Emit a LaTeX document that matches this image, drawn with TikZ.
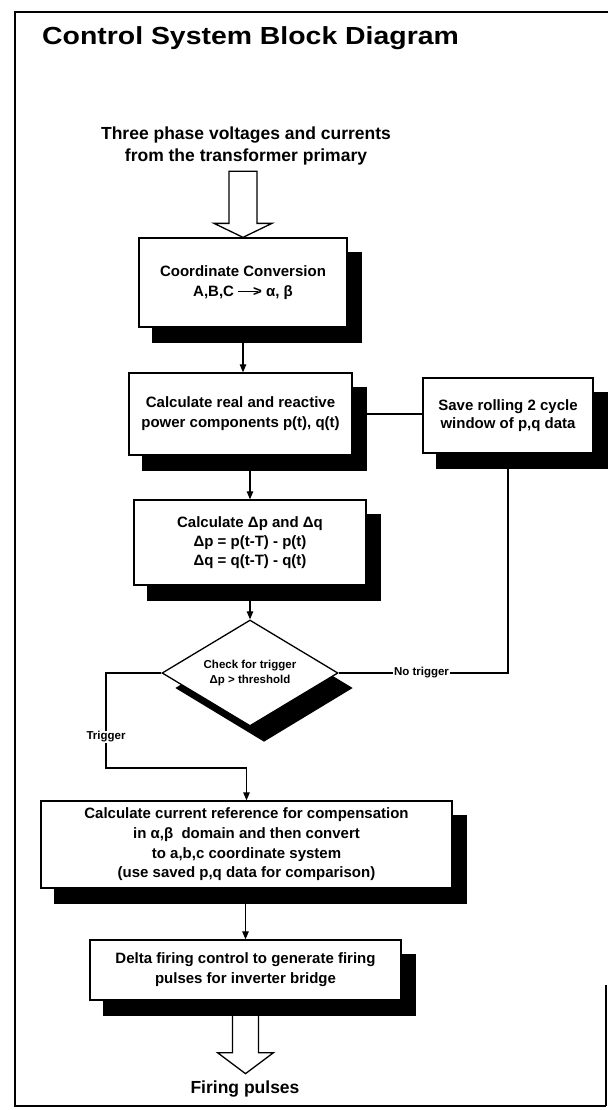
\documentclass[tikz,border=0pt]{standalone}
\usepackage{fontspec}
\setmainfont{Liberation Sans}
\newfontfamily\titlefont{Liberation Sans}[FakeStretch=1.15]
\usetikzlibrary{arrows.meta,shapes.geometric,calc}
\pgfdeclarelayer{lines}
\pgfdeclarelayer{shadows}
\pgfsetlayers{lines,shadows,main}
\newcommand{\ctlarrow}{\raisebox{0.27em}{\rule{1.3em}{0.07em}}\kern-0.3em>}
\begin{document}
\begin{tikzpicture}[x=1pt,y=-1pt,
  box/.style={draw,fill=white,line width=1.3pt,align=center,inner sep=0pt,
    font=\bfseries\fontsize{15}{20}\selectfont},
  dbox/.style={diamond,draw,fill=white,line width=1.3pt,align=center,inner sep=0pt,
    aspect=1.66,minimum width=176pt,minimum height=106pt,
    font=\bfseries\fontsize{11.5}{15}\selectfont},
  lbl/.style={fill=white,inner sep=1pt,font=\bfseries\fontsize{11.5}{14}\selectfont},
  big/.style={align=center,inner sep=0pt,font=\bfseries\fontsize{17.5}{22}\selectfont},
  conn/.style={line width=1.1pt},
  arr/.style={conn,-{Triangle[length=8pt,width=6.5pt]}},
  fat/.style={draw,fill=white,line width=1.3pt,line join=miter},
  shad/.style={fill=black}
]
\useasboundingbox (0,0) rectangle (608,1110);

% frame
\draw[line width=2.2pt] (608,12) -- (15,12) -- (15,1106) -- (606,1106);
\draw[line width=1.5pt] (606,985) -- (606,1106);

% title
\node[anchor=base west,inner sep=0pt,font=\titlefont\bfseries\fontsize{24.7}{28}\selectfont] (title) at (42,45) {Control System Block Diagram};

% top label
\node[big] (src) at (246,146) {Three phase voltages and currents\\from the transformer primary};

% blocks
\node[box,minimum width=208pt,minimum height=89pt] (b1) at (243,282.5) {Coordinate Conversion\\A,B,C \ctlarrow\ α, β};
\node[box,minimum width=223pt,minimum height=82pt] (b2) at (240.5,414) {Calculate real and reactive\\power components p(t), q(t)};
\node[box,minimum width=170pt,minimum height=75pt,font=\bfseries\fontsize{15}{18.5}\selectfont] (save) at (508,415.5) {Save rolling 2 cycle\\window of p,q data};
\node[box,minimum width=232pt,minimum height=85pt,font=\bfseries\fontsize{15}{19}\selectfont] (b3) at (250,542.5) {Calculate Δp and Δq\\Δp = p(t-T) - p(t)\\Δq = q(t-T) - q(t)};
\node[dbox] (dia) at (250,673) {Check for trigger\\Δp > threshold};
\node[box,minimum width=411pt,minimum height=87pt,font=\bfseries\fontsize{15}{19.7}\selectfont] (b4) at (246.5,844.5) {Calculate current reference for compensation\\in α,β\ \ domain and then convert\\to a,b,c coordinate system\\(use saved p,q data for comparison)};
\node[box,minimum width=311pt,minimum height=60pt] (b5) at (245.5,970) {Delta firing control to generate firing\\pulses for inverter bridge};

% bottom label
\node[big] (out) at (245,1089) {Firing pulses};

% shadows
\begin{pgfonlayer}{shadows}
\foreach \n in {b1,b2,save,b3,b4,b5}{
  \fill[shad] ([shift={(14,15)}]\n.north west) rectangle ([shift={(14,15)}]\n.south east);
}
\fill[shad] ([shift={(14,15)}]dia.north) -- ([shift={(14,15)}]dia.east) -- ([shift={(14,15)}]dia.south) -- ([shift={(14,15)}]dia.west) -- cycle;
\end{pgfonlayer}

% connectors
\begin{pgfonlayer}{lines}
\draw[arr] (b1.south) -- (b1.south |- b2.north);
\draw[arr] (b3.north |- b2.south) -- (b3.north);
\draw[arr] (b3.south) -- (dia.north);
\draw[conn] (b2.east) -- (b2.east -| save.west);
\draw[conn] (dia.east) -| (save.south);
\coordinate (t1) at (106,768);
\draw[arr] (dia.west) -| (t1) -| (b4.north);
\draw[arr] (b5.north |- b4.south) -- (b5.north);
% output fat arrow
\draw[fat] ([shift={(-13,0)}]b5.south) -- ([shift={(-13,52)}]b5.south) -- ([shift={(-28,52)}]b5.south)
  -- ([shift={(0,73)}]b5.south) -- ([shift={(28,52)}]b5.south) -- ([shift={(13,52)}]b5.south)
  -- ([shift={(13,0)}]b5.south) -- cycle;
\end{pgfonlayer}

% input fat arrow
\draw[fat] ([shift={(-14,-66)}]b1.north) -- ([shift={(14,-66)}]b1.north) -- ([shift={(14,-14)}]b1.north)
  -- ([shift={(29,-14)}]b1.north) -- (b1.north) -- ([shift={(-29,-14)}]b1.north)
  -- ([shift={(-14,-14)}]b1.north) -- cycle;

% branch labels
\node[lbl] (notrig) at (421.5,673) {No trigger};
\node[lbl] (trig) at (106,737) {Trigger};
\end{tikzpicture}
\end{document}
